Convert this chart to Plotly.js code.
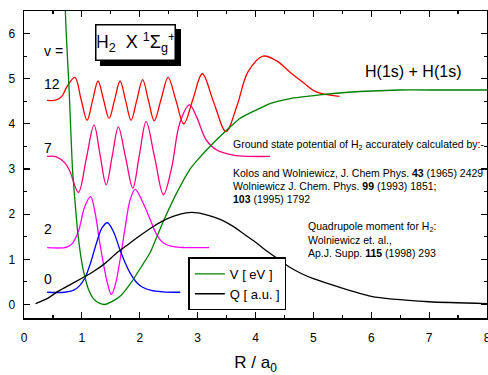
<!DOCTYPE html>
<html>
<head>
<meta charset="utf-8">
<script src="https://cdn.plot.ly/plotly-3.0.1.min.js"></script>
<style>html,body{margin:0;padding:0;background:#fff;}#chart{width:488px;height:375px;}</style>
</head>
<body>
<div id="chart"></div>
<script>
// Potential curve V(R) [eV]
const R_V = [0.70, 0.73, 0.78, 0.835, 0.88, 0.93, 1.01, 1.06, 1.11, 1.20, 1.30, 1.40, 1.50, 1.66, 1.86, 2.00, 2.18, 2.41, 2.65, 2.87, 3.01, 3.25, 3.50, 3.73, 4.00, 4.25, 4.60, 5.11, 5.60, 6.49, 7.20, 8.00];
const V_eV = [6.95, 6.00, 4.75, 3.05, 2.30, 1.58, 0.85, 0.57, 0.35, 0.13, 0.03, 0.00, 0.05, 0.18, 0.50, 0.78, 1.15, 1.85, 2.50, 3.00, 3.22, 3.55, 3.86, 4.12, 4.30, 4.45, 4.56, 4.64, 4.70, 4.75, 4.75, 4.75];
// Quadrupole moment Q(R) [a.u.]
const R_Q = [0.2, 0.4, 0.6, 0.8, 1.0, 1.2, 1.4, 1.6, 1.8, 2.0, 2.2, 2.4, 2.6, 2.8, 3.0, 3.2, 3.4, 3.6, 3.8, 4.0, 4.2, 4.4, 4.6, 4.8, 5.0, 6.0, 7.0, 8.0];
const Q_au = [0.02, 0.13, 0.30, 0.44, 0.58, 0.73, 0.91, 1.14, 1.33, 1.52, 1.70, 1.85, 1.96, 2.03, 2.03, 1.97, 1.88, 1.74, 1.56, 1.38, 1.18, 1.00, 0.82, 0.68, 0.57, 0.18, 0.06, 0.02];
// Vibrational wavefunctions (drawn at their level energies)
const R_v0 = [0.40, 0.70, 0.85, 0.95, 1.05, 1.15, 1.25, 1.35, 1.44, 1.55, 1.65, 1.75, 1.85, 1.95, 2.05, 2.20, 2.40, 2.70];
const P_v0 = [0.27, 0.27, 0.31, 0.40, 0.58, 0.92, 1.35, 1.70, 1.81, 1.60, 1.24, 0.92, 0.66, 0.48, 0.38, 0.31, 0.28, 0.27];
const R_v2 = [0.40, 0.74, 0.84, 0.94, 1.05, 1.15, 1.23, 1.31, 1.44, 1.51, 1.58, 1.66, 1.75, 1.83, 1.92, 2.06, 2.18, 2.29, 2.41, 2.58, 2.80, 3.20];
const P_v2 = [1.26, 1.27, 1.36, 1.62, 2.17, 2.39, 2.02, 1.36, 0.48, 0.22, 0.45, 0.99, 1.72, 2.30, 2.55, 2.24, 1.88, 1.55, 1.36, 1.28, 1.26, 1.26];
const R_v7 = [0.40, 0.56, 0.71, 0.79, 0.94, 1.075, 1.21, 1.315, 1.42, 1.525, 1.63, 1.755, 1.88, 1.995, 2.11, 2.26, 2.41, 2.55, 2.69, 2.86, 2.98, 3.15, 3.33, 3.61, 3.90, 4.25];
const P_v7 = [3.28, 3.27, 3.13, 2.96, 2.48, 3.22, 3.97, 3.31, 2.65, 3.29, 3.93, 3.26, 2.58, 3.32, 4.05, 3.24, 2.43, 3.02, 4.01, 4.42, 4.16, 3.64, 3.42, 3.31, 3.28, 3.28];
const R_v12 = [0.40, 0.56, 0.66, 0.74, 0.88, 0.985, 1.09, 1.185, 1.28, 1.375, 1.47, 1.565, 1.66, 1.755, 1.85, 1.95, 2.05, 2.15, 2.25, 2.37, 2.49, 2.625, 2.76, 2.92, 3.08, 3.28, 3.49, 3.68, 3.87, 4.13, 4.36, 4.59, 4.82, 5.05, 5.45];
const P_v12 = [4.52, 4.53, 4.62, 4.82, 5.03, 4.55, 4.08, 4.52, 4.95, 4.53, 4.12, 4.53, 4.95, 4.52, 4.08, 4.53, 4.98, 4.52, 4.07, 4.55, 5.03, 4.52, 4.00, 4.55, 5.11, 4.47, 3.83, 4.40, 5.15, 5.50, 5.40, 5.15, 4.92, 4.71, 4.61];
const vLabels = ['12', '7', '2', '0'];
const vLabelY = [4.89, 3.47, 1.67, 0.565];
const xTicks = [0, 1, 2, 3, 4, 5, 6, 7, 8];
const yTicks = [0, 1, 2, 3, 4, 5, 6];

const FONT = 'Arial, "Liberation Sans", sans-serif';
const wf = (x, y, c) => ({x: x, y: y, mode: 'lines', line: {color: c, width: 1.3, shape: 'spline', smoothing: 1}, showlegend: false, hoverinfo: 'skip'});

const data = [
  wf(R_v12, P_v12, '#ff0000'),
  wf(R_v7, P_v7, '#ff0080'),
  wf(R_v2, P_v2, '#ff00ff'),
  wf(R_v0, P_v0, '#0000ff'),
  {x: R_V, y: V_eV, mode: 'lines', name: 'V [ eV ]', line: {color: '#008000', width: 1.3, shape: 'spline', smoothing: 0.5}},
  {x: R_Q, y: Q_au, mode: 'lines', name: 'Q [ a.u. ]', line: {color: '#000000', width: 1.3, shape: 'spline', smoothing: 0.6}}
];

const titleText = 'H<sub>2</sub>\u00a0\u00a0X <sup>1</sup>Σ<sub>g</sub><sup>+</sup>';
const boxCommon = {x: 1.93, y: 5.81, xref: 'x', yref: 'y', text: titleText, showarrow: false,
  width: 76, height: 32, borderwidth: 1.5, borderpad: 1, bordercolor: '#000', font: {family: FONT, size: 18, color: '#000'}};

const annotations = [
  Object.assign({}, boxCommon, {bgcolor: '#000', xshift: 5, yshift: -5}),
  Object.assign({}, boxCommon, {bgcolor: '#fff'}),
  {x: 0.306, y: 5.61, xref: 'x', yref: 'y', text: 'v =', showarrow: false, xanchor: 'left', yanchor: 'middle', font: {family: FONT, size: 14, color: '#000'}},
  {x: 6.72, y: 5.17, xref: 'x', yref: 'y', text: 'H(1s) + H(1s)', showarrow: false, xanchor: 'center', yanchor: 'middle', font: {family: FONT, size: 16, color: '#000'}},
];
vLabels.forEach((t, i) => annotations.push({x: 0.306, y: vLabelY[i], xref: 'x', yref: 'y', text: t, showarrow: false, xanchor: 'left', yanchor: 'middle', font: {family: FONT, size: 14, color: '#000'}}));

const notes = [
  [3.57, 3.53, 'Ground state potential of H<sub>2</sub> accurately calculated by:-'],
  [3.57, 2.92, 'Kolos and Wolniewicz, J. Chem Phys. <b>43</b> (1965) 2429'],
  [3.57, 2.62, 'Wolniewicz J. Chem. Phys. <b>99</b> (1993) 1851;'],
  [3.57, 2.33, '<b>103</b> (1995) 1792'],
  [4.88, 1.72, 'Quadrupole moment for H<sub>2</sub>:'],
  [4.88, 1.43, 'Wolniewicz et. al.,'],
  [4.88, 1.13, 'Ap.J. Supp. <b>115</b> (1998) 293']
];
notes.forEach(n => annotations.push({x: n[0], y: n[1], xref: 'x', yref: 'y', text: n[2], showarrow: false, xanchor: 'left', yanchor: 'middle', font: {family: FONT, size: 10.5, color: '#000'}}));

const axisCommon = {showline: true, linecolor: '#000', linewidth: 1.5, mirror: 'ticks', ticks: 'inside', ticklen: 6, tickwidth: 1.2, tickcolor: '#000',
  showgrid: false, zeroline: false, automargin: false, ticklabeloverflow: 'allow', tickfont: {family: FONT, size: 12, color: '#000'},
  minor: {dtick: 0.5, ticks: 'inside', ticklen: 3, tickwidth: 1.2, tickcolor: '#000', showgrid: false}};

const layout = {
  width: 488, height: 375,
  margin: {l: 24, r: 1, t: 11, b: 57},
  paper_bgcolor: '#fff', plot_bgcolor: '#fff',
  font: {family: FONT, color: '#000'},
  xaxis: Object.assign({}, axisCommon, {range: [0, 8], tickvals: xTicks, ticklabelstandoff: 8,
    title: {text: 'R / a<sub>0</sub>', font: {family: FONT, size: 17, color: '#000'}, standoff: 12}}),
  yaxis: Object.assign({}, axisCommon, {range: [-0.3, 6.5], tickvals: yTicks, ticklabelstandoff: 5}),
  legend: {x: 0.355, y: 0.111, xanchor: 'left', yanchor: 'middle', bgcolor: '#fff', bordercolor: '#000', borderwidth: 1.5,
    font: {family: FONT, size: 13, color: '#000'}, itemwidth: 30, tracegroupgap: 0},
  annotations: annotations,
  showlegend: true
};

Plotly.newPlot('chart', data, layout, {staticPlot: true, displayModeBar: false});
</script>
</body>
</html>
